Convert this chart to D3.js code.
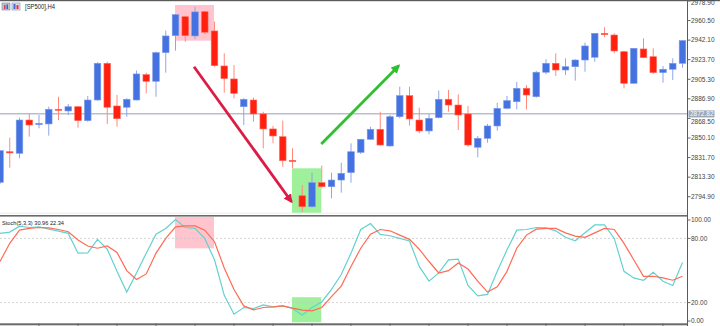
<!DOCTYPE html>
<html>
<head>
<meta charset="utf-8">
<script src="https://cdn.jsdelivr.net/npm/d3@7/dist/d3.min.js"></script>
<style>
  html, body { margin: 0; padding: 0; background: #fff; }
  svg { display: block; font-family: 'Liberation Sans', Arial, sans-serif; }
</style>
</head>
<body>
<svg id="chart" width="720" height="326"></svg>
<script>
// candle data, H4 bars (left to right)
const opens = [2808.4, 2837.2, 2835.7, 2867.0, 2862.6, 2863.3, 2877.1, 2875.5, 2879.5, 2866.4,
  2885.8, 2920.3, 2880.2, 2879.0, 2885.8, 2909.6, 2903.4, 2930.3, 2946.3, 2964.1,
  2946.0, 2968.8, 2950.7, 2917.8, 2905.6, 2879.5, 2885.8, 2872.7, 2858.6, 2851.3,
  2829.1, 2795.8, 2785.5, 2808.1, 2804.3, 2810.6, 2817.5, 2836.6, 2848.9, 2858.3,
  2842.6, 2870.1, 2889.9, 2867.0, 2856.7, 2869.2, 2886.5, 2881.1, 2872.7, 2841.4,
  2849.8, 2861.4, 2878.0, 2884.2, 2896.8, 2888.9, 2911.9, 2920.3, 2914.0, 2917.1,
  2923.4, 2926.0, 2948.5, 2946.9, 2931.2, 2901.5, 2933.8, 2926.5, 2911.5, 2914.7, 2920.3]
const highs = [2838.8, 2850.4, 2869.2, 2873.3, 2871.7, 2879.5, 2888.9, 2882.1, 2880.2, 2889.6,
  2921.3, 2921.8, 2890.5, 2887.4, 2913.4, 2911.5, 2931.2, 2951.0, 2966.7, 2964.8,
  2973.5, 2969.8, 2959.4, 2929.7, 2918.7, 2887.4, 2888.0, 2874.8, 2861.4, 2866.4,
  2840.4, 2805.9, 2817.5, 2824.1, 2817.5, 2826.9, 2845.1, 2848.9, 2860.7, 2874.8,
  2871.7, 2898.3, 2898.3, 2878.6, 2872.7, 2894.6, 2895.2, 2891.2, 2880.2, 2852.0,
  2863.3, 2883.3, 2889.6, 2902.7, 2899.9, 2913.1, 2924.1, 2929.7, 2925.0, 2924.1,
  2939.7, 2948.5, 2954.2, 2948.5, 2931.9, 2934.4, 2943.8, 2934.4, 2917.8, 2925.0, 2942.2]
const lows = [2806.8, 2822.2, 2831.0, 2851.3, 2859.2, 2852.3, 2867.0, 2871.7, 2859.8, 2865.4,
  2885.2, 2863.3, 2860.7, 2870.1, 2885.5, 2892.1, 2888.9, 2911.5, 2932.2, 2940.6,
  2942.9, 2947.9, 2917.1, 2892.7, 2887.4, 2862.3, 2865.4, 2840.4, 2845.1, 2823.1,
  2821.6, 2780.8, 2784.9, 2802.8, 2793.4, 2798.7, 2808.1, 2835.1, 2848.2, 2842.9,
  2841.9, 2868.6, 2861.7, 2854.5, 2853.6, 2868.6, 2874.8, 2857.6, 2841.9, 2832.0,
  2845.7, 2857.0, 2877.1, 2877.1, 2877.1, 2888.0, 2910.0, 2908.4, 2909.3, 2904.0,
  2912.4, 2921.8, 2944.8, 2929.7, 2896.8, 2901.5, 2925.0, 2910.3, 2902.1, 2904.6, 2916.2]
const closes = [2838.2, 2836.6, 2867.0, 2862.3, 2863.9, 2877.1, 2876.4, 2879.5, 2866.4, 2885.8,
  2920.3, 2879.0, 2868.2, 2886.5, 2910.3, 2903.4, 2930.3, 2946.0, 2966.0, 2946.3,
  2968.6, 2949.5, 2918.1, 2905.9, 2892.1, 2886.5, 2872.7, 2858.6, 2852.0, 2828.8,
  2828.5, 2785.5, 2808.1, 2804.3, 2810.6, 2816.9, 2837.2, 2848.9, 2858.3, 2843.5,
  2870.1, 2889.9, 2868.0, 2856.7, 2868.6, 2886.5, 2881.1, 2871.7, 2843.5, 2849.8,
  2861.4, 2878.0, 2885.2, 2896.8, 2890.5, 2911.9, 2920.3, 2914.0, 2917.1, 2923.4,
  2936.6, 2948.5, 2947.2, 2931.9, 2901.5, 2934.4, 2925.6, 2911.5, 2914.7, 2920.3, 2941.6]

// Stochastic(5,3,3): main and signal lines
const stochMain = [84.7, 85.9, 91.4, 90.2, 90.9, 88.6, 86.8, 84.7, 66.2, 66.5,
  79.1, 69.9, 49.2, 29.8, 47.7, 66.2, 84.0, 89.3, 97.6, 90.2,
  89.3, 80.0, 60.0, 26.8, 9.2, 15.4, 14.5, 17.8, 16.0, 16.9,
  14.5, 8.3, 15.4, 20.6, 32.3, 46.2, 66.2, 88.3, 93.9, 83.7,
  82.5, 80.0, 77.6, 53.8, 40.0, 47.7, 60.0, 60.6, 36.0, 26.2,
  27.7, 49.2, 69.3, 87.7, 88.3, 90.2, 89.9, 87.1, 81.0, 77.8,
  85.2, 92.6, 92.6, 80.0, 49.2, 43.1, 40.9, 48.3, 40.0, 36.0, 57.5]
const stochSignal = [58.4, 75.4, 87.7, 89.3, 90.2, 89.9, 88.3, 86.2, 78.5, 72.9,
  70.8, 72.9, 66.8, 49.9, 41.6, 46.8, 66.2, 80.0, 90.8, 91.7,
  91.7, 87.7, 76.9, 52.4, 32.3, 16.9, 13.2, 15.4, 16.0, 16.9,
  14.8, 12.9, 12.3, 15.4, 25.6, 35.4, 53.8, 70.8, 84.0, 88.3,
  87.1, 83.1, 79.1, 69.9, 58.4, 47.7, 49.9, 57.0, 51.4, 40.0,
  29.8, 34.8, 49.2, 70.8, 83.1, 88.6, 89.3, 89.3, 85.2, 82.2,
  81.0, 85.2, 89.3, 88.3, 75.4, 60.0, 44.6, 44.6, 43.1, 40.9, 44.6]

const priceTicks = [2794.90, 2813.30, 2831.70, 2850.10, 2868.50, 2886.90, 2905.30, 2923.70, 2942.10, 2960.50, 2978.90]
const stochTicks = [100, 80, 20, 0]
const stochLevels = [80, 20]
const bidPrice = 2872.82
const title = '[SP500],H4'
const stochLabel = 'Stoch(5,3,3) 30.96 22.34'

// annotations, in bar index / price / stoch units
const boxes = [
  { i0: 17.95, i1: 21.95, p0: 2941.6, p1: 2975.1, s0: 70.7, s1: 100, color: '#ffc4cd' },
  { i0: 29.95, i1: 32.95, p0: 2779.6, p1: 2821.6, s0: 1.6, s1: 25, color: '#9ef09a' }
]
const arrows = [
  { i0: 19.9, p0: 2917.1, i1: 29.9, p1: 2790.2, color: '#dc1c44' },
  { i0: 32.95, p0: 2844.5, i1: 40.9, p1: 2918.1, color: '#2fbf2f' }
]

const svg = d3.select('#chart')
const width = 720
const height = 326
const axisX = 687.5

const x = d3.scaleLinear().domain([0, opens.length - 1]).range([0, 682.5])
const y = d3.scaleLinear().domain([2779.6, 2979.8]).range([213, 0])
const ys = d3.scaleLinear().domain([0, 100]).range([324, 217])

const candles = opens.map((o, i) => ({ i, o, h: highs[i], l: lows[i], c: closes[i] }))
const up = '#4472e0'
const down = '#ff2010'

const defs = svg.append('defs')
defs.append('clipPath').attr('id', 'clipTop')
  .append('rect').attr('x', 0).attr('y', 1).attr('width', axisX).attr('height', 212.5)
defs.append('clipPath').attr('id', 'clipLow')
  .append('rect').attr('x', 0).attr('y', 217).attr('width', axisX).attr('height', 106.5)

const topG = svg.append('g').attr('clip-path', 'url(#clipTop)')
const lowG = svg.append('g').attr('clip-path', 'url(#clipLow)')

// highlight boxes
topG.selectAll('rect.hl').data(boxes).enter().append('rect')
  .attr('x', d => x(d.i0)).attr('width', d => x(d.i1) - x(d.i0))
  .attr('y', d => y(d.p1)).attr('height', d => y(d.p0) - y(d.p1))
  .attr('fill', d => d.color)
lowG.selectAll('rect.hl').data(boxes).enter().append('rect')
  .attr('x', d => x(d.i0)).attr('width', d => x(d.i1) - x(d.i0))
  .attr('y', d => ys(d.s1)).attr('height', d => ys(d.s0) - ys(d.s1))
  .attr('fill', d => d.color)

// bid line
topG.append('line')
  .attr('x1', 0).attr('x2', axisX)
  .attr('y1', y(bidPrice)).attr('y2', y(bidPrice))
  .attr('stroke', '#b9c0cb').attr('stroke-width', 1.6)

// candles
const cg = topG.selectAll('g.candle').data(candles).enter().append('g')
cg.append('line')
  .attr('x1', d => x(d.i)).attr('x2', d => x(d.i))
  .attr('y1', d => y(d.h)).attr('y2', d => y(d.l))
  .attr('stroke', d => d.c >= d.o ? '#8ea6ec' : '#ff8a7c')
  .attr('stroke-width', 1)
cg.append('rect')
  .attr('x', d => x(d.i) - 3.3).attr('width', 6.6)
  .attr('y', d => y(Math.max(d.o, d.c)))
  .attr('height', d => Math.max(1.2, Math.abs(y(d.o) - y(d.c))))
  .attr('fill', d => d.c >= d.o ? up : down)
  .attr('stroke', d => d.c >= d.o ? '#7e9ae8' : '#ff6a5c')
  .attr('stroke-width', 0.6)

// arrows
arrows.forEach((a, k) => {
  defs.append('marker').attr('id', 'ah' + k)
    .attr('viewBox', '0 0 10 10').attr('refX', 8).attr('refY', 5)
    .attr('markerWidth', 3.2).attr('markerHeight', 3.2).attr('orient', 'auto')
    .append('path').attr('d', 'M0,0 L10,5 L0,10 z').attr('fill', a.color)
})
topG.selectAll('line.arrow').data(arrows).enter().append('line')
  .attr('x1', d => x(d.i0)).attr('y1', d => y(d.p0))
  .attr('x2', d => x(d.i1)).attr('y2', d => y(d.p1))
  .attr('stroke', d => d.color).attr('stroke-width', 2.8)
  .attr('marker-end', (d, k) => `url(#ah${k})`)

// stoch levels
lowG.selectAll('line.lvl').data(stochLevels).enter().append('line')
  .attr('x1', 0).attr('x2', axisX)
  .attr('y1', d => ys(d)).attr('y2', d => ys(d))
  .attr('stroke', '#c8c8c8').attr('stroke-dasharray', '2,2').attr('stroke-width', 0.8)

const sLine = vals => d3.line().x((d, i) => x(i)).y(d => ys(d))(vals)
lowG.append('path').attr('d', sLine(stochMain))
  .attr('fill', 'none').attr('stroke', '#62d2cf').attr('stroke-width', 1.2)
lowG.append('path').attr('d', sLine(stochSignal))
  .attr('fill', 'none').attr('stroke', '#ff6b55').attr('stroke-width', 1.2)

// frames
svg.append('rect').attr('x', 0).attr('y', 0).attr('width', width).attr('height', 1.2).attr('fill', '#5a5a5a')
svg.append('line').attr('x1', 0).attr('x2', axisX).attr('y1', 213.2).attr('y2', 213.2).attr('stroke', '#ececec')
svg.append('rect').attr('x', 0).attr('y', 215).attr('width', axisX).attr('height', 1.6).attr('fill', '#6a6a6a')
svg.append('rect').attr('x', 0).attr('y', 323.3).attr('width', axisX).attr('height', 2).attr('fill', '#6a6a6a')
svg.append('line').attr('x1', axisX).attr('x2', axisX).attr('y1', 0).attr('y2', height)
  .attr('stroke', '#5a5a5a').attr('stroke-width', 1)

// time ticks at the bottom
const timeTicks = d3.range(4, opens.length, 4)
svg.selectAll('line.tt').data(timeTicks).enter().append('line')
  .attr('x1', d => x(d)).attr('x2', d => x(d))
  .attr('y1', 323.3).attr('y2', 326)
  .attr('stroke', '#6a6a6a')

// price axis; the label next to the bid box is nudged down so both stay readable
const labelColor = '#444'
const bidY = y(bidPrice)
const labelY = d => {
  const py = Math.max(3.2, y(d))
  return Math.abs(py - bidY) < 7.5 ? bidY + 7.6 : py
}
const pa = svg.append('g')
pa.selectAll('line').data(priceTicks).enter().append('line')
  .attr('x1', axisX).attr('x2', axisX + 3)
  .attr('y1', d => y(d)).attr('y2', d => y(d))
  .attr('stroke', '#666')
pa.selectAll('text').data(priceTicks).enter().append('text')
  .attr('x', axisX + 3.5).attr('y', labelY)
  .attr('dy', '0.35em').attr('font-size', 6.5).attr('fill', labelColor)
  .text(d => d3.format('.2f')(d))

// bid label
svg.append('rect').attr('x', axisX + 1).attr('y', bidY - 3.4)
  .attr('width', 26).attr('height', 7).attr('fill', '#9ba7b8')
svg.append('text').attr('x', axisX + 2.5).attr('y', bidY)
  .attr('dy', '0.35em').attr('font-size', 6.5).attr('fill', '#fff')
  .text(d3.format('.2f')(bidPrice))

// stoch axis
const clampS = v => Math.min(321, Math.max(220, ys(v)))
const sa = svg.append('g')
sa.selectAll('line').data(stochTicks).enter().append('line')
  .attr('x1', axisX).attr('x2', axisX + 3)
  .attr('y1', d => clampS(d)).attr('y2', d => clampS(d))
  .attr('stroke', '#666')
sa.selectAll('text').data(stochTicks).enter().append('text')
  .attr('x', axisX + 3.5).attr('y', d => clampS(d))
  .attr('dy', '0.35em').attr('font-size', 6.5).attr('fill', labelColor)
  .text(d => d3.format('.2f')(d))

// titles
const ic = svg.append('g')
ic.append('rect').attr('x', 2).attr('y', 3).attr('width', 8).attr('height', 7).attr('fill', '#b7c2d4').attr('stroke', '#7d8aa0').attr('stroke-width', 0.6)
ic.append('rect').attr('x', 4).attr('y', 5).attr('width', 1.5).attr('height', 4).attr('fill', '#e04040')
ic.append('rect').attr('x', 6.5).attr('y', 4.5).attr('width', 1.5).attr('height', 4.5).attr('fill', '#4060c0')
ic.append('rect').attr('x', 12).attr('y', 3).attr('width', 8).attr('height', 7).attr('fill', '#dde4f4').attr('stroke', '#7d8aa0').attr('stroke-width', 0.6)
ic.append('rect').attr('x', 13.5).attr('y', 4).attr('width', 2).attr('height', 5).attr('fill', '#3e66d8')
ic.append('rect').attr('x', 16.5).attr('y', 5).attr('width', 2).attr('height', 4).attr('fill', '#e83030')
svg.append('text').attr('x', 25).attr('y', 7).attr('dy', '0.35em')
  .attr('font-size', 6.5).attr('fill', '#222')
  .attr('textLength', 30).attr('lengthAdjust', 'spacingAndGlyphs')
  .text(title)
svg.append('text').attr('x', 2).attr('y', 222.5).attr('dy', '0.35em')
  .attr('font-size', 6).attr('fill', '#222')
  .attr('textLength', 62).attr('lengthAdjust', 'spacingAndGlyphs')
  .text(stochLabel)
</script>
</body>
</html>
